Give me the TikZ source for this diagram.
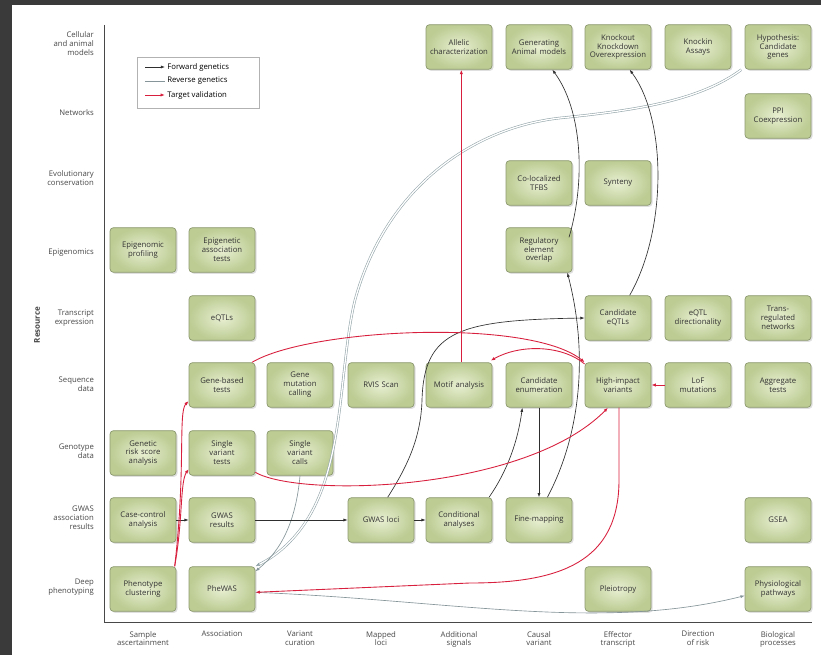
\documentclass[tikz,border=0pt]{standalone}
\usepackage{fontspec}
\setmainfont{Open Sans}
\usetikzlibrary{arrows.meta,shadows}
\definecolor{framecol}{HTML}{3A3A3A}
\definecolor{boxin}{HTML}{E8EFD2}
\definecolor{boxout}{HTML}{BCCC93}
\definecolor{boxedge}{HTML}{8D9A70}
\definecolor{fwdcol}{HTML}{2E2E2E}
\definecolor{revcol}{HTML}{94A6AA}
\definecolor{tvcol}{HTML}{D8203E}
\definecolor{labcol}{HTML}{484848}
\begin{document}
\begin{tikzpicture}[x=0.3mm,y=-0.3mm,
  font=\fontsize{6.6}{7.6}\selectfont,
  stage/.style={draw=boxedge, line width=0.6pt, rounded corners=3pt,
    inner color=boxin, outer color=boxout,
    minimum width=19.8mm, minimum height=13.4mm, text width=18.8mm,
    inner sep=0.5mm, align=center, text=black!80,
    drop shadow={shadow xshift=0.45mm, shadow yshift=-0.45mm, opacity=0.25}},
  rowlab/.style={anchor=east, align=right, text=labcol},
  collab/.style={anchor=north, align=center, text=labcol},
  fwd/.style={draw=fwdcol, line width=0.55pt, -{Latex[length=3.6pt,width=2.6pt]}},
  tv/.style={draw=tvcol, line width=0.75pt, -{Latex[length=3.8pt,width=2.8pt]}},
  rev/.style={draw=revcol, line width=0.5pt, double=white, double distance=1.1pt,
    -{Latex[length=3.8pt,width=3pt]}},
  revthin/.style={draw=revcol!90!black, line width=0.55pt, -{Latex[length=3.6pt,width=2.6pt]}},
]
% page and frame
\useasboundingbox (0,0) rectangle (821,655);
\fill[white] (0,0) rectangle (821,655);
\fill[framecol] (0,0) rectangle (821,5);
\fill[framecol] (0,0) rectangle (12,655);

% axes
\draw[labcol, line width=0.6pt] (104,25) -- (104,622) -- (812,622);
\node[rotate=90, font=\fontsize{6.8}{7.8}\selectfont\bfseries, text=labcol] (resource) at (37,325) {Resource};

% row labels
\node[rowlab] (lr1) at (98,44)  {Cellular\\and animal\\models};
\node[rowlab] (lr2) at (98,113) {Networks};
\node[rowlab] (lr3) at (98,178) {Evolutionary\\conservation};
\node[rowlab] (lr4) at (98,253) {Epigenomics};
\node[rowlab] (lr5) at (98,318) {Transcript\\expression};
\node[rowlab] (lr6) at (98,384) {Sequence\\data};
\node[rowlab] (lr7) at (98,451) {Genotype\\data};
\node[rowlab] (lr8) at (98,518) {GWAS\\association\\results};
\node[rowlab] (lr9) at (98,587) {Deep\\phenotyping};

% column labels
\node[collab] (lc1) at (143,627) {Sample\\ascertainment};
\node[collab] (lc2) at (222,627) {Association};
\node[collab] (lc3) at (300,627) {Variant\\curation};
\node[collab] (lc4) at (381,627) {Mapped\\loci};
\node[collab] (lc5) at (459,627) {Additional\\signals};
\node[collab] (lc6) at (539,627) {Causal\\variant};
\node[collab] (lc7) at (618,627) {Effector\\transcript};
\node[collab] (lc8) at (698,627) {Direction\\of risk};
\node[collab] (lc9) at (778,627) {Biological\\processes};

% legend
\draw[draw=black!30, fill=white, line width=0.4pt,
  drop shadow={shadow xshift=0.4mm, shadow yshift=-0.4mm, opacity=0.2}]
  (137,57) rectangle (259,108);
\coordinate (lg1a) at (145,67); \coordinate (lg1b) at (165,67);
\coordinate (lg2a) at (145,81); \coordinate (lg2b) at (165,81);
\coordinate (lg3a) at (145,95); \coordinate (lg3b) at (165,95);
\draw[fwd] (lg1a) -- (lg1b);
\draw[revthin, -] (lg2a) -- (lg2b);
\draw[tv] (lg3a) -- (lg3b);
\node[anchor=west, inner sep=1pt] (lgt1) at (166,67) {Forward genetics};
\node[anchor=west, inner sep=1pt] (lgt2) at (166,81) {Reverse genetics};
\node[anchor=west, inner sep=1pt] (lgt3) at (166,95) {Target validation};

% stages: cellular and animal models
\node[stage] (allelic)  at (459,47) {Allelic\\characterization};
\node[stage] (genanim)  at (539,47) {Generating\\Animal models};
\node[stage] (kokd)     at (618,47) {Knockout\\Knockdown\\Overexpression};
\node[stage] (knockin)  at (698,47) {Knockin\\Assays};
\node[stage] (hypo)     at (778,47) {Hypothesis:\\Candidate\\genes};
% networks
\node[stage] (ppi)      at (778,116) {PPI\\Coexpression};
% evolutionary conservation
\node[stage] (tfbs)     at (539,183) {Co-localized\\TFBS};
\node[stage] (synteny)  at (618,183) {Synteny};
% epigenomics
\node[stage] (epiprof)  at (143,250) {Epigenomic\\profiling};
\node[stage] (epiassoc) at (222,250) {Epigenetic\\association\\tests};
\node[stage] (regel)    at (539,250) {Regulatory\\element\\overlap};
% transcript expression
\node[stage] (eqtl)     at (222,318) {eQTLs};
\node[stage] (candeqtl) at (618,318) {Candidate\\eQTLs};
\node[stage] (eqtldir)  at (698,318) {eQTL\\directionality};
\node[stage] (transreg) at (778,318) {Trans-\\regulated\\networks};
% sequence data
\node[stage] (genebased) at (222,385) {Gene-based\\tests};
\node[stage] (genemut)   at (300,385) {Gene\\mutation\\calling};
\node[stage] (rvis)      at (381,385) {RVIS Scan};
\node[stage] (motif)     at (459,385) {Motif analysis};
\node[stage] (candenum)  at (539,385) {Candidate\\enumeration};
\node[stage] (hiv)       at (618,385) {High-impact\\variants};
\node[stage] (lof)       at (698,385) {LoF\\mutations};
\node[stage] (aggr)      at (778,385) {Aggregate\\tests};
% genotype data
\node[stage] (grs)      at (143,453) {Genetic\\risk score\\analysis};
\node[stage] (svt)      at (222,453) {Single\\variant\\tests};
\node[stage] (svc)      at (300,453) {Single\\variant\\calls};
% GWAS association results
\node[stage] (casectrl) at (143,520) {Case-control\\analysis};
\node[stage] (gwasres)  at (222,520) {GWAS\\results};
\node[stage] (gwasloci) at (381,520) {GWAS loci};
\node[stage] (condan)   at (459,520) {Conditional\\analyses};
\node[stage] (finemap)  at (539,520) {Fine-mapping};
\node[stage] (gsea)     at (778,520) {GSEA};
% deep phenotyping
\node[stage] (phenclust) at (143,589) {Phenotype\\clustering};
\node[stage] (phewas)    at (222,589) {PheWAS};
\node[stage] (pleio)     at (618,589) {Pleiotropy};
\node[stage] (physio)    at (778,589) {Physiological\\pathways};

% reverse genetics
\draw[rev] ([xshift=-1mm]hypo.south west) .. controls (700,100) and (640,110) .. (560,118)
  .. controls (470,128) and (385,190) .. (355,300)
  .. controls (338,370) and (346,470) .. (300,530)
  .. controls (286,548) and (272,558) .. (phewas.north east);
\draw[revthin] (svc.south) .. controls (296,520) and (282,550) .. ([yshift=-1.5mm]phewas.north east);
\draw[revthin] ([yshift=-1mm]phewas.east) .. controls (450,600) and (600,632) .. ([yshift=-2mm]physio.west);

% forward genetics
\draw[fwd] (casectrl) -- (gwasres);
\draw[fwd] (gwasres) -- (gwasloci);
\draw[fwd] (gwasloci) -- (condan);
\draw[fwd] ([xshift=2mm]gwasloci.north) .. controls (405,470) and (421,440) .. (422,400)
  .. controls (424,330) and (460,320) .. (candeqtl.west);
\draw[fwd] ([xshift=-1mm]condan.north east) .. controls (508,470) and (518,440) .. ([xshift=-5mm]candenum.south);
\draw[fwd] (candenum) -- (finemap);
\draw[fwd] ([xshift=2.5mm]finemap.north) .. controls (578,440) and (590,360) .. ([xshift=-1.5mm]regel.south east);
\draw[fwd] ([xshift=-1mm,yshift=-3mm]regel.north east) .. controls (586,180) and (582,110) .. ([xshift=4mm]genanim.south);
\draw[fwd] ([xshift=3.5mm]candeqtl.north) .. controls (667,230) and (667,120) .. ([xshift=3.5mm]kokd.south);

% target validation
\draw[tv] ([xshift=-0.5mm]phenclust.north east) .. controls (183,520) and (180,482) .. ([yshift=2mm]svt.south west);
\draw[tv] ([xshift=-0.5mm]phenclust.north east) .. controls (186,470) and (178,412) .. ([yshift=2mm]genebased.south west);
\draw[tv] ([xshift=-1mm]genebased.north east) .. controls (310,328) and (530,318) .. (hiv.north west);
\draw[tv] ([yshift=-0.5mm]hiv.north west) .. controls (562,345) and (520,344) .. ([xshift=-0.5mm,yshift=0.5mm]motif.north east);
\draw[tv] ([xshift=0.7mm]motif.north) -- ([xshift=0.7mm]allelic.south);
\draw[tv] ([yshift=1mm]svt.south east) .. controls (300,498) and (525,492) .. ([xshift=-3mm]hiv.south);
\draw[tv] (lof) -- (hiv);
\draw[tv] ([xshift=0.3mm]hiv.south) -- (619,480) .. controls (619,562) and (560,583) .. (470,583) -- ([yshift=-1mm]phewas.east);
\end{tikzpicture}
\end{document}
